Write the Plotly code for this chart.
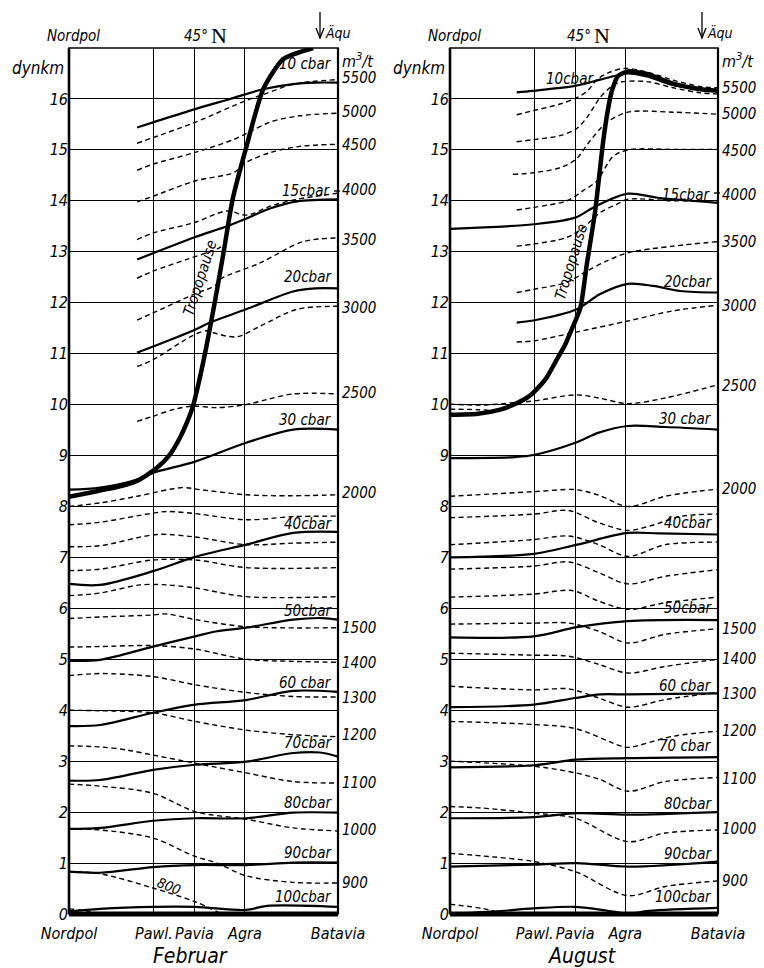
import plotly.graph_objects as go

# ---------------- data (latitude in degrees, height in dynamic km) ----------------
station_lat = [90, 59.7, 45.2, 27.2, -6]
station_names = ["Nordpol", "Pawl.", "Pavia", "Agra", "Batavia"]
dyn_ticks = list(range(0, 17))

# ---- Februar ----
feb_tropo_lat = [90, 80, 70, 64.7, 58.6, 54, 50.4, 47.9, 45.7, 43.2, 41.1, 38.0, 34.8, 31.6, 27.0, 20.7, 13.6, 2.9]
feb_tropo_dyn = [8.19, 8.3, 8.42, 8.53, 8.76, 9.02, 9.35, 9.65, 9.98, 10.55, 11.1, 12.0, 13.0, 14.03, 15.0, 16.19, 16.78, 17.0]

feb_isobar_names = ["10 cbar", "15cbar", "20cbar", "30 cbar", "40cbar", "50cbar",
                    "60 cbar", "70cbar", "80cbar", "90cbar", "100cbar"]
feb_isobar_lat = [
    [65.7, 60, 45, 32.5, 20.8, 10, 2, -6],
    [65.7, 60, 45.4, 33.6, 26.8, 18.3, 8.6, -6],
    [65.7, 60, 45, 39.7, 26.8, 10, 2, -6],
    [90, 78.9, 65.7, 60, 45, 26.8, 10, -6],
    [90, 78.9, 60, 45, 26.8, 10, -6],
    [90, 78.9, 60, 45, 37.2, 26.8, 10, -0.6, -6],
    [90, 78.9, 60, 45, 26.8, 10, -6],
    [90, 78.9, 60, 45, 26.8, 10, 0.4, -6],
    [90, 78.9, 60, 45, 26.8, 10, -6],
    [90, 78.9, 60, 45, 26.8, 10, -6],
    [90, 78.9, 60, 45, 26.8, 19.3, -6],
]
feb_isobar_dyn = [
    [15.44, 15.54, 15.8, 16.0, 16.19, 16.29, 16.32, 16.32],
    [12.85, 12.97, 13.28, 13.5, 13.65, 13.85, 13.99, 14.03],
    [11.02, 11.14, 11.47, 11.61, 11.87, 12.22, 12.28, 12.28],
    [8.33, 8.37, 8.53, 8.66, 8.88, 9.25, 9.51, 9.51],
    [6.48, 6.46, 6.73, 7.01, 7.25, 7.48, 7.5],
    [4.97, 4.99, 5.25, 5.45, 5.55, 5.62, 5.78, 5.81, 5.78],
    [3.69, 3.71, 3.95, 4.11, 4.2, 4.38, 4.36],
    [2.62, 2.63, 2.83, 2.93, 2.99, 3.16, 3.17, 3.09],
    [1.67, 1.69, 1.83, 1.88, 1.88, 1.99, 1.99],
    [0.83, 0.81, 0.92, 0.96, 0.96, 1.01, 1.01],
    [0.05, 0.1, 0.14, 0.14, 0.08, 0.16, 0.14],
]
feb_isobar_label_dyn = [16.68, 14.2, 12.51, 9.7, 7.66, 5.95, 4.54, 3.36, 2.18, 1.2, 0.33]

feb_isostere_lat = [
    [65.7, 60, 45, 26.8, 20, 10, -6],
    [65.7, 60, 45, 31.4, 25, 18, 7.6, -6],
    [65.7, 60, 45, 31, 26.9, 18, 7.6, -6],
    [65.7, 60, 45.4, 33.7, 26.6, 18, 8.6, -6],
    [65.7, 60, 48, 37.3, 35],
    [65.7, 60, 45.6, 37.5, 36.1, 21.8, 6.4, -6],
    [65.7, 60, 45.7, 40.7, 38.5, 30.2, 21.8, 8.7, -6],
    [65.7, 60, 52.9, 45.7, 37.2, 26.8, 19.3, 10, -6],
    [90, 78.9, 65.7, 49.7, 43.2, 26.8, 11.1, -6],
    [90, 78.9, 60, 55, 45, 26.8, 10, -6],
    [90, 78.9, 58.6, 45, 26.8, 10, -6],
    [90, 78.9, 60, 45, 26.8, -6],
    [90, 78.9, 64.7, 55, 45, 26.8, -6],
    [90, 78.9, 60, 55, 45, 26.8, -6],
    [90, 78.9, 60, 45, 26.8, 10, -6],
    [90, 78.9, 60, 45, 26.8, 10, -6],
    [90, 78.9, 60, 45, 26.8, 10, -6],
    [90, 78.9, 69.4, 60, 45, 26.8, 10, -6],
    [90, 78.9, 60, 45, 26.8, 10, -6],
    [90, 78.9, 60, 45, 37.2, 26.8, 10, -6],
    [90, 78.9, 60, 45, 36.1],
    [90, 86.1, 80],
]
feb_isostere_dyn = [
    [15.13, 15.24, 15.54, 15.97, 16.1, 16.29, 16.38],
    [14.6, 14.72, 14.95, 15.2, 15.37, 15.55, 15.67, 15.72],
    [13.98, 14.09, 14.39, 14.56, 14.75, 14.95, 15.07, 15.11],
    [13.24, 13.37, 13.57, 13.8, 13.72, 13.9, 14.03, 14.15],
    [12.48, 12.62, 12.85, 13.05, 13.12],
    [11.66, 11.8, 12.16, 12.35, 12.46, 12.78, 13.2, 13.27],
    [10.75, 10.88, 11.36, 11.45, 11.41, 11.33, 11.54, 11.87, 11.93],
    [9.67, 9.77, 9.9, 9.97, 9.94, 10.0, 10.1, 10.21, 10.21],
    [8.0, 8.07, 8.2, 8.37, 8.33, 8.23, 8.21, 8.23],
    [7.64, 7.69, 7.87, 7.9, 7.86, 7.74, 7.8, 7.81],
    [7.21, 7.23, 7.45, 7.4, 7.25, 7.28, 7.3],
    [6.74, 6.77, 6.95, 6.95, 6.8, 6.8],
    [6.25, 6.3, 6.46, 6.46, 6.4, 6.23, 6.23],
    [5.8, 5.83, 5.87, 5.89, 5.78, 5.64, 5.62],
    [5.24, 5.25, 5.27, 5.2, 5.0, 4.96, 4.94],
    [4.68, 4.72, 4.66, 4.5, 4.35, 4.27, 4.26],
    [4.0, 3.99, 3.95, 3.78, 3.61, 3.52, 3.48],
    [3.3, 3.28, 3.22, 3.12, 2.96, 2.77, 2.6, 2.57],
    [2.55, 2.51, 2.37, 2.01, 1.86, 1.69, 1.63],
    [1.67, 1.65, 1.49, 1.13, 1.0, 0.75, 0.62, 0.61],
    [0.83, 0.79, 0.51, 0.24, 0.02],
    [0.1, 0.08, 0.02],
]
feb_m3t_labels = ["5500", "5000", "4500", "4000", "3500", "3000", "2500", "2000",
                  "1500", "1400", "1300", "1200", "1100", "1000", "900"]
feb_m3t_dyn = [16.42, 15.74, 15.09, 14.22, 13.24, 11.89, 10.22, 8.27,
               5.62, 4.93, 4.24, 3.52, 2.57, 1.65, 0.61]

# ---- August ----
aug_tropo_lat = [90, 80, 72, 66.7, 62, 59.5, 55.5, 52, 49, 47, 43.3, 41, 38, 35.1, 33.3, 32, 29.8, 26.3, 19.4, 10.1, 0.4, -6]
aug_tropo_dyn = [9.8, 9.82, 9.9, 10.01, 10.15, 10.27, 10.52, 10.86, 11.15, 11.4, 11.9, 12.75, 13.8, 15.18, 15.83, 16.16, 16.45, 16.54, 16.49, 16.3, 16.19, 16.16]

aug_isobar_names = ["10cbar", "15cbar", "20cbar", "30 cbar", "40cbar", "50cbar",
                    "60 cbar", "70 cbar", "80cbar", "90cbar", "100cbar"]
aug_isobar_lat = [
    [66.1, 60.2, 44.8, 36.2, 30.3, 26.3, 19.5, 10.1, 0.4, -6],
    [90, 60, 45.1, 38.6, 26.3, 15.6, -6],
    [66.1, 60.2, 44.6, 36.2, 26.3, 17.2, 7.6, -6],
    [90, 66.7, 60, 45.1, 36.7, 26.3, 12.9, -6],
    [90, 60, 44.5, 26.3, 15, -6],
    [90, 60, 44.5, 26.3, -6],
    [90, 60, 45.1, 36.2, 26.3, -6],
    [90, 60, 45.1, 26.3, -6],
    [90, 60, 44.5, 26.3, -6],
    [90, 60, 44.5, 26.3, -6],
    [90, 74, 60, 45.1, 30.8, 26.3, 18.8, -6],
]
aug_isobar_dyn = [
    [16.13, 16.16, 16.26, 16.38, 16.46, 16.5, 16.44, 16.27, 16.2, 16.18],
    [13.45, 13.54, 13.67, 13.87, 14.14, 14.06, 13.96],
    [11.61, 11.65, 11.87, 12.17, 12.37, 12.33, 12.23, 12.2],
    [8.95, 8.97, 9.01, 9.25, 9.45, 9.58, 9.56, 9.51],
    [7.0, 7.07, 7.25, 7.48, 7.47, 7.45],
    [5.43, 5.45, 5.63, 5.75, 5.77],
    [4.06, 4.11, 4.24, 4.31, 4.31, 4.33],
    [2.88, 2.92, 3.03, 3.06, 3.08],
    [1.88, 1.9, 1.98, 1.95, 2.0],
    [0.93, 0.97, 1.0, 0.93, 1.03],
    [0.0, 0.05, 0.11, 0.14, 0.04, 0.0, 0.06, 0.12],
]
aug_isobar_label_dyn = [16.39, 14.12, 12.4, 9.71, 7.67, 6.0, 4.47, 3.29, 2.15, 1.17, 0.34]

aug_isostere_lat = [
    [66.1, 60.2, 50.6, 44.8, 40.9, 37.3, 33, 27.3, 19.5, 10.1, 0, -6],
    [66.1, 60.2, 50.6, 44.8, 40.9, 36.2, 32, 29, 19.5, 10.1, 0.4, -6],
    [67.5, 60.2, 50.6, 44.8, 39.8, 33.8, 26.3, 10.1, -6],
    [66.1, 60.2, 48.2, 42.3, 37.4, 31.6, 26.3, 10.1, -6],
    [66.1, 60.2, 48.2, 42.3, 36.2, 30.3, 26.3, 10.1, -6],
    [66.1, 60.2, 48.2, 41, 33.8, 26.3, 10.1, -6],
    [66.1, 60.2, 45.9, 26.3, 10.1, -6],
    [90, 78.5, 66.7, 60, 45.1, 36.7, 26.3, 12.9, -6],
    [90, 80, 74],
    [90, 60, 45.1, 36.7, 26.3, 12.9, 0.9, -6],
    [90, 60, 47.5, 36.7, 26.3, 18.8, 6.8, -6],
    [90, 60, 47.5, 36.7, 26.3, 12.9, -6],
    [90, 60, 47.5, 36.7, 26.3, 12.9, -6],
    [90, 60, 46.3, 36.7, 26.3, 12.9, -6],
    [90, 60, 47.5, 36.7, 26.3, 12.9, -6],
    [90, 60, 47.5, 36.7, 26.3, 12.9, -6],
    [90, 60, 47.5, 36.7, 26.3, 12.9, -6],
    [90, 60, 45.1, 29, 26.3, 10, -6],
    [90, 60, 45, 36.2, 26.3, 12.9, -6],
    [90, 78.5, 60, 45.1, 26.3, 12.9, -6],
    [90, 78.5, 60, 45.1, 26.3, 12.9, -6],
    [90, 78.5, 74],
]
aug_isostere_dyn = [
    [15.69, 15.77, 15.9, 16.02, 16.15, 16.38, 16.52, 16.6, 16.53, 16.37, 16.24, 16.22],
    [15.16, 15.2, 15.28, 15.41, 15.64, 16.03, 16.25, 16.33, 16.34, 16.22, 16.12, 16.1],
    [14.52, 14.55, 14.65, 14.82, 15.18, 15.54, 15.74, 15.74, 15.7],
    [13.82, 13.87, 14.0, 14.2, 14.39, 14.87, 15.0, 15.01, 15.01],
    [13.11, 13.15, 13.28, 13.47, 13.77, 13.93, 14.03, 14.0, 14.0],
    [12.2, 12.26, 12.4, 12.62, 12.82, 12.98, 13.11, 13.2],
    [11.23, 11.25, 11.41, 11.64, 11.84, 11.95],
    [10.01, 9.99, 10.04, 10.07, 10.19, 10.13, 10.02, 10.13, 10.39],
    [9.91, 9.9, 9.88],
    [8.2, 8.29, 8.33, 8.22, 8.0, 8.2, 8.3, 8.34],
    [7.78, 7.85, 7.92, 7.68, 7.53, 7.61, 7.81, 7.85],
    [7.25, 7.35, 7.42, 7.25, 7.02, 7.25, 7.3],
    [6.77, 6.83, 6.91, 6.7, 6.48, 6.63, 6.76],
    [6.22, 6.28, 6.35, 6.14, 5.98, 6.11, 6.22],
    [5.69, 5.71, 5.71, 5.55, 5.32, 5.49, 5.6],
    [5.12, 5.08, 5.06, 4.9, 4.73, 4.86, 5.0],
    [4.47, 4.4, 4.42, 4.24, 4.06, 4.21, 4.35],
    [3.78, 3.72, 3.64, 3.3, 3.27, 3.49, 3.59],
    [3.0, 2.9, 2.77, 2.64, 2.41, 2.6, 2.68],
    [2.11, 2.08, 1.98, 1.88, 1.42, 1.59, 1.65],
    [1.19, 1.14, 1.03, 0.83, 0.36, 0.54, 0.65],
    [0.19, 0.11, 0.05],
]
aug_m3t_labels = feb_m3t_labels
aug_m3t_dyn = [16.21, 15.7, 14.97, 14.12, 13.2, 11.94, 10.37, 8.34,
               5.59, 5.0, 4.31, 3.59, 2.66, 1.66, 0.64]

# ---------------- layout helpers (pixel geometry) ----------------
W, H = 764, 968
Y_TOP, Y_BOT = 48, 914
PANELS = [
    dict(x0=69, x1=338, xa="x", ya="y"),
    dict(x0=450, x1=718, xa="x2", ya="y2"),
]
NARROW = "Liberation Sans Narrow, DejaVu Sans Condensed, Liberation Sans, sans-serif"
SERIF = "Liberation Serif, DejaVu Serif, serif"


def px(x):
    return x / W


def py(y):
    return 1 - y / H


def ifont(size):
    return dict(family=NARROW, size=size, color="black", style="italic")


fig = go.Figure()

panel_data = [
    (feb_tropo_lat, feb_tropo_dyn, feb_isobar_lat, feb_isobar_dyn,
     feb_isostere_lat, feb_isostere_dyn),
    (aug_tropo_lat, aug_tropo_dyn, aug_isobar_lat, aug_isobar_dyn,
     aug_isostere_lat, aug_isostere_dyn),
]

for p, (tl, td, bl, bd, sl, sd) in zip(PANELS, panel_data):
    common = dict(xaxis=p["xa"], yaxis=p["ya"], mode="lines",
                  hoverinfo="skip", showlegend=False)
    for la, dy in zip(sl, sd):
        fig.add_trace(go.Scatter(x=la, y=dy, line=dict(color="black", width=1.4,
                                 dash="5px,3.5px", shape="spline", smoothing=0.9), **common))
    for la, dy in zip(bl, bd):
        fig.add_trace(go.Scatter(x=la, y=dy, line=dict(color="black", width=2.2,
                                 shape="spline", smoothing=0.9), **common))
    fig.add_trace(go.Scatter(x=tl, y=td, line=dict(color="black", width=4.5,
                             shape="spline", smoothing=0.6), **common))

annotations = []
shapes = []

axis_common_x = dict(range=[90, -6], tickvals=station_lat, ticktext=station_names,
                     showgrid=True, gridcolor="black", gridwidth=1, zeroline=False,
                     showline=False, ticks="", tickangle=0, tickfont=ifont(16),
                     ticklabelstandoff=8, automargin=False, fixedrange=True)
axis_common_y = dict(range=[0, 17], tickvals=dyn_ticks, ticktext=[str(v) for v in dyn_ticks],
                     showgrid=True, gridcolor="black", gridwidth=1, zeroline=False,
                     showline=False, ticks="", tickfont=ifont(16),
                     automargin=False, fixedrange=True)

ydom = [py(Y_BOT), py(Y_TOP)]
fig.update_layout(
    template="none",
    xaxis=dict(domain=[px(PANELS[0]["x0"]), px(PANELS[0]["x1"])], anchor="y", **axis_common_x),
    yaxis=dict(domain=ydom, anchor="x", **axis_common_y),
    xaxis2=dict(domain=[px(PANELS[1]["x0"]), px(PANELS[1]["x1"])], anchor="y2", **axis_common_x),
    yaxis2=dict(domain=ydom, anchor="x2", **axis_common_y),
)

titles = ["Februar", "August"]
title_x = [190, 582]
isobar_names = [feb_isobar_names, aug_isobar_names]
isobar_label_dyn = [feb_isobar_label_dyn, aug_isobar_label_dyn]
m3t_labels = [feb_m3t_labels, aug_m3t_labels]
m3t_dyn = [feb_m3t_dyn, aug_m3t_dyn]
tropo_label_pos = [(200, 278, -72), (571, 262, -73)]
top45_x = [210, 593]
arrow_x = [320, 702]
dash15_y = [191, 193]

for i, p in enumerate(PANELS):
    xd = p["xa"] + " domain"
    yd = p["ya"] + " domain"
    # frame
    shapes.append(dict(type="rect", xref=xd, yref=yd, x0=0, x1=1, y0=0, y1=1,
                       line=dict(color="black", width=1.6), layer="above"))
    shapes.append(dict(type="line", xref=xd, yref=yd, x0=0, x1=0, y0=0, y1=1,
                       line=dict(color="black", width=2.6), layer="above"))
    shapes.append(dict(type="line", xref=xd, yref=yd, x0=1, x1=1, y0=0, y1=1,
                       line=dict(color="black", width=2.2), layer="above"))
    shapes.append(dict(type="line", xref=xd, yref=yd, x0=0, x1=1, y0=0, y1=0,
                       line=dict(color="black", width=5), layer="above"))
    # short dash joining the 15 cbar label to the 4000 label
    shapes.append(dict(type="line", xref="paper", yref="paper",
                       x0=px(p["x1"] - 4), x1=px(p["x1"] + 2),
                       y0=py(dash15_y[i]), y1=py(dash15_y[i]),
                       line=dict(color="black", width=1.4)))
    # arrow toward the equator
    ax_ = arrow_x[i]
    shapes.append(dict(type="line", xref="paper", yref="paper", x0=px(ax_), x1=px(ax_),
                       y0=py(12), y1=py(38), line=dict(color="black", width=1.3)))
    shapes.append(dict(type="path", xref="paper", yref="paper",
                       path=f"M {px(ax_ - 4)} {py(28)} L {px(ax_)} {py(38)} L {px(ax_ + 4)} {py(28)}",
                       line=dict(color="black", width=1.3)))
    # isobar labels
    for k, (name, dy) in enumerate(zip(isobar_names[i], isobar_label_dyn[i])):
        xr = p["x1"] - 4
        if k == 1:
            xr = p["x1"] - 6
        if i == 1 and k == 0:
            xr = 596
        annotations.append(dict(text=name, xref="paper", yref=p["ya"], x=px(xr), y=dy,
                                xanchor="right", yanchor="middle", showarrow=False,
                                font=ifont(15)))
    # specific-volume labels
    for lab, dy in zip(m3t_labels[i], m3t_dyn[i]):
        annotations.append(dict(text=lab, xref="paper", yref=p["ya"], x=px(p["x1"] + 2), y=dy,
                                xanchor="left", yanchor="middle", showarrow=False,
                                font=ifont(15)))
    annotations.append(dict(text="m<sup>3</sup>/t", xref="paper", yref="paper",
                            x=px(p["x1"] + 2), y=py(60), xanchor="left", yanchor="middle",
                            showarrow=False, font=ifont(16)))
    annotations.append(dict(text="dynkm", xref="paper", yref="paper",
                            x=px(p["x0"] - 3), y=py(68), xanchor="right", yanchor="middle",
                            showarrow=False, font=ifont(17)))
    annotations.append(dict(text="Nordpol", xref="paper", yref="paper",
                            x=px(p["x0"] + 4), y=py(36), xanchor="center", yanchor="middle",
                            showarrow=False, font=ifont(15)))
    annotations.append(dict(text="45°", xref="paper", yref="paper",
                            x=px(top45_x[i]), y=py(36), xanchor="right", yanchor="middle",
                            showarrow=False, font=ifont(15)))
    annotations.append(dict(text="N", xref="paper", yref="paper",
                            x=px(top45_x[i] - 1), y=py(35), xanchor="left", yanchor="middle",
                            showarrow=False, font=dict(family=SERIF, size=22, color="black")))
    annotations.append(dict(text="Äqu", xref="paper", yref="paper",
                            x=px(ax_ + 3), y=py(33), xanchor="left", yanchor="middle",
                            showarrow=False, font=ifont(14)))
    annotations.append(dict(text=titles[i], xref="paper", yref="paper",
                            x=px(title_x[i]), y=py(956), xanchor="center",
                            yanchor="middle", showarrow=False, font=ifont(21)))
    tx, ty, ta = tropo_label_pos[i]
    annotations.append(dict(text="Tropopause", xref="paper", yref="paper",
                            x=px(tx), y=py(ty), textangle=ta, showarrow=False,
                            xanchor="center", yanchor="middle", font=ifont(15)))

annotations.append(dict(text="800", xref="paper", yref="paper", x=px(169), y=py(886),
                        xanchor="center", yanchor="middle",
                        textangle=22, showarrow=False, font=ifont(14)))

fig.update_layout(
    width=W, height=H, margin=dict(l=0, r=0, t=0, b=0, pad=0),
    paper_bgcolor="white", plot_bgcolor="white",
    showlegend=False, annotations=annotations, shapes=shapes,
    font=dict(family=NARROW, color="black"),
)

fig.write_html("out.html", config={"displayModeBar": False},
               post_script="document.body.style.margin='0px';document.body.style.overflow='hidden';")
